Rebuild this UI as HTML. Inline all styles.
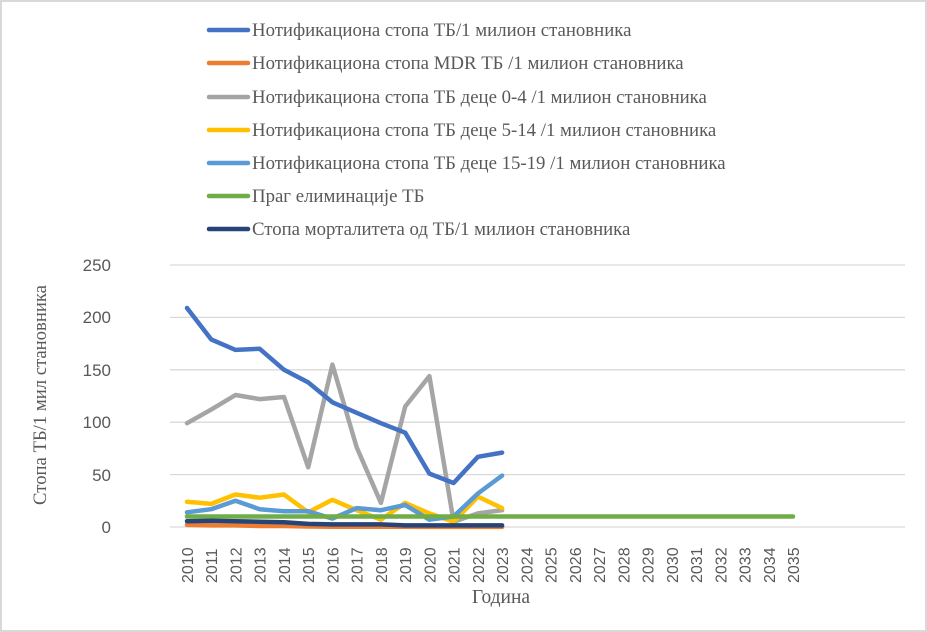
<!DOCTYPE html><html><head><meta charset="utf-8"><style>body{margin:0;background:#fff}svg{display:block}</style></head><body>
<svg width="927" height="632" xmlns="http://www.w3.org/2000/svg" font-family="Liberation Serif, serif">
<rect x="1" y="1" width="925" height="630" fill="#fff" stroke="#d9d9d9" stroke-width="2"/>
<g stroke="#d9d9d9" stroke-width="1.3">
<line x1="170" y1="265" x2="905" y2="265"/><line x1="170" y1="317.4" x2="905" y2="317.4"/><line x1="170" y1="369.8" x2="905" y2="369.8"/><line x1="170" y1="422.2" x2="905" y2="422.2"/><line x1="170" y1="474.6" x2="905" y2="474.6"/><line x1="170" y1="527" x2="905" y2="527"/>
</g>
<g font-family="Liberation Sans, sans-serif" font-size="17" fill="#595959" text-anchor="end">
<text x="111" y="271">250</text><text x="111" y="323">200</text><text x="111" y="376">150</text><text x="111" y="428">100</text><text x="111" y="481">50</text><text x="111" y="533">0</text>
</g>
<g font-family="Liberation Sans, sans-serif" font-size="16" fill="#595959">
<text transform="translate(193,583) rotate(-90)">2010</text>
<text transform="translate(217.2,583) rotate(-90)">2011</text>
<text transform="translate(241.5,583) rotate(-90)">2012</text>
<text transform="translate(265.7,583) rotate(-90)">2013</text>
<text transform="translate(290,583) rotate(-90)">2014</text>
<text transform="translate(314.2,583) rotate(-90)">2015</text>
<text transform="translate(338.4,583) rotate(-90)">2016</text>
<text transform="translate(362.7,583) rotate(-90)">2017</text>
<text transform="translate(386.9,583) rotate(-90)">2018</text>
<text transform="translate(411.2,583) rotate(-90)">2019</text>
<text transform="translate(435.4,583) rotate(-90)">2020</text>
<text transform="translate(459.6,583) rotate(-90)">2021</text>
<text transform="translate(483.9,583) rotate(-90)">2022</text>
<text transform="translate(508.1,583) rotate(-90)">2023</text>
<text transform="translate(532.4,583) rotate(-90)">2024</text>
<text transform="translate(556.6,583) rotate(-90)">2025</text>
<text transform="translate(580.8,583) rotate(-90)">2026</text>
<text transform="translate(605.1,583) rotate(-90)">2027</text>
<text transform="translate(629.3,583) rotate(-90)">2028</text>
<text transform="translate(653.6,583) rotate(-90)">2029</text>
<text transform="translate(677.8,583) rotate(-90)">2030</text>
<text transform="translate(702,583) rotate(-90)">2031</text>
<text transform="translate(726.3,583) rotate(-90)">2032</text>
<text transform="translate(750.5,583) rotate(-90)">2033</text>
<text transform="translate(774.8,583) rotate(-90)">2034</text>
<text transform="translate(799,583) rotate(-90)">2035</text>
</g>
<text x="501" y="603" font-size="19.5" fill="#595959" text-anchor="middle">Година</text>
<text transform="translate(46,395) rotate(-90)" font-size="18.7" fill="#595959" text-anchor="middle">Стопа ТБ/1 мил становника</text>
<g fill="none" stroke-width="4.5" stroke-linejoin="round" stroke-linecap="round">
<polyline stroke="#a5a5a5" points="187,423.2 211.2,409.6 235.5,395 259.7,399.1 284,397 308.2,467.3 332.4,364.6 356.7,447.4 380.9,502.9 405.2,406.5 429.4,376.1 453.6,521.8 477.9,513.4 502.1,510.2"/>
<polyline stroke="#ffc000" points="187,501.8 211.2,503.9 235.5,494.5 259.7,497.7 284,494.5 308.2,512.3 332.4,499.8 356.7,510.2 380.9,519.7 405.2,502.9 429.4,513.4 453.6,521.8 477.9,496.6 502.1,508.1"/>
<polyline stroke="#5b9bd5" points="187,512.3 211.2,509.2 235.5,500.8 259.7,509.2 284,511.3 308.2,511.3 332.4,518.6 356.7,508.1 380.9,510.2 405.2,505 429.4,519.7 453.6,516.5 477.9,493.5 502.1,475.6"/>
<polyline stroke="#70ad47" points="187,516.5 793,516.5"/>
<polyline stroke="#ed7d31" points="187,524.9 211.2,525.4 235.5,525.4 259.7,526 284,526 308.2,526.5 332.4,526.7 356.7,526.7 380.9,526.8 405.2,526.8 429.4,526.9 453.6,526.9 477.9,526.9 502.1,526.9"/>
<polyline stroke="#264478" points="187,521.2 211.2,520.7 235.5,521.2 259.7,521.8 284,522.3 308.2,523.9 332.4,524.4 356.7,524.4 380.9,524.4 405.2,525.4 429.4,525.4 453.6,525.4 477.9,525.4 502.1,525.4"/>
<polyline stroke="#4472c4" points="187,308 211.2,339.4 235.5,349.9 259.7,348.8 284,369.8 308.2,382.4 332.4,402.3 356.7,412.8 380.9,423.2 405.2,432.7 429.4,473.6 453.6,483 477.9,456.8 502.1,452.6"/>
</g>
<g font-size="18.8" fill="#595959">
<line x1="209" y1="30" x2="248" y2="30" stroke="#4472c4" stroke-width="4.5" stroke-linecap="round"/><text x="252" y="36">Нотификациона стопа ТБ/1 милион становника</text>
<line x1="209" y1="63" x2="248" y2="63" stroke="#ed7d31" stroke-width="4.5" stroke-linecap="round"/><text x="252" y="69">Нотификациона стопа MDR ТБ /1 милион становника</text>
<line x1="209" y1="97" x2="248" y2="97" stroke="#a5a5a5" stroke-width="4.5" stroke-linecap="round"/><text x="252" y="103">Нотификациона стопа ТБ деце 0-4 /1 милион становника</text>
<line x1="209" y1="130" x2="248" y2="130" stroke="#ffc000" stroke-width="4.5" stroke-linecap="round"/><text x="252" y="136">Нотификациона стопа ТБ деце 5-14 /1 милион становника</text>
<line x1="209" y1="163" x2="248" y2="163" stroke="#5b9bd5" stroke-width="4.5" stroke-linecap="round"/><text x="252" y="169">Нотификациона стопа ТБ деце 15-19 /1 милион становника</text>
<line x1="209" y1="196" x2="248" y2="196" stroke="#70ad47" stroke-width="4.5" stroke-linecap="round"/><text x="252" y="202">Праг елиминације  ТБ</text>
<line x1="209" y1="229" x2="248" y2="229" stroke="#264478" stroke-width="4.5" stroke-linecap="round"/><text x="252" y="235">Стопа морталитета од ТБ/1 милион становника</text>
</g>
</svg>
</body></html>
